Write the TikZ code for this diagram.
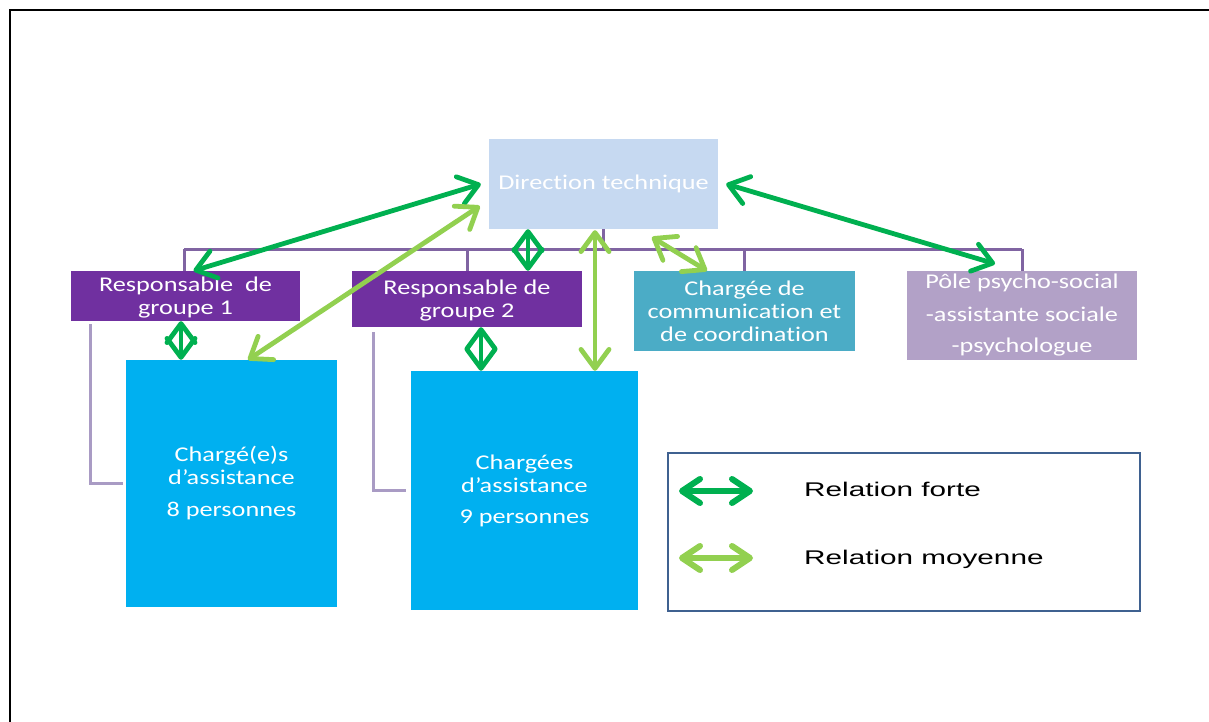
\documentclass[tikz,border=0pt]{standalone}
\usepackage{fontspec}
\setmainfont{Carlito}[FakeStretch=1.25, Ligatures=NoCommon]
\newfontfamily\legfont{Liberation Sans}[FakeStretch=1.5]
\usetikzlibrary{arrows.meta}
\definecolor{dirblue}{HTML}{C6D9F1}
\definecolor{respurple}{HTML}{7030A0}
\definecolor{comblue}{HTML}{4BACC6}
\definecolor{polepurple}{HTML}{B2A1C7}
\definecolor{agentblue}{HTML}{00B0F0}
\definecolor{dkgreen}{HTML}{00B050}
\definecolor{ltgreen}{HTML}{92D050}
\definecolor{orgline}{HTML}{8064A2}
\definecolor{sideline}{HTML}{A99BC4}
\definecolor{legborder}{HTML}{3F6190}
\tikzset{
  box/.style={draw=none, inner sep=0pt, align=center, text=white,
    font=\fontsize{21}{23}\selectfont},
  org/.style={draw=orgline, line width=3pt},
  side/.style={draw=sideline, line width=3pt},
  strong/.style={draw=dkgreen, line width=4.8pt, line cap=round,
    >={Straight Barb[round,length=19pt,width=28pt]}, <->},
  medium/.style={strong, draw=ltgreen},
  legarrow/.style={line width=6pt, line cap=round,
    >={Straight Barb[round,length=18pt,width=24pt]}, <->},
  legtext/.style={inner sep=0pt, font=\legfont\fontsize{19.8}{22}\selectfont}
}
\begin{document}
\begin{tikzpicture}[x=1pt,y=-1pt]
\useasboundingbox (0,0) rectangle (1209,722);
% outer frame
\draw[line width=2pt] (10,722) -- (10,10) -- (1209,10);

% boxes
\node[box, fill=dirblue, minimum width=229pt, minimum height=90pt] (dir) at (603.5,184) {Direction technique};
\node[box, fill=respurple, minimum width=229pt, minimum height=50pt] (r1) at (185.5,296) {\rule{0pt}{17pt}Responsable\ \ de\\groupe 1};
\node[box, fill=respurple, minimum width=230pt, minimum height=56pt] (r2) at (467,299) {\rule{0pt}{17pt}Responsable de\\groupe 2};
\node[box, fill=comblue, minimum width=221pt, minimum height=80pt] (com) at (744.5,311) {Chargée de\\communication et\\de coordination};
\node[box, fill=polepurple, minimum width=230pt, minimum height=89pt] (pole) at (1022,315.5) {Pôle psycho-social\\[10pt]-assistante sociale\\[8pt]-psychologue};
\node[box, fill=agentblue, minimum width=211pt, minimum height=247pt] (b1) at (231.5,483.5) {Chargé(e)s\\d’assistance\\[9pt]8 personnes};
\node[box, fill=agentblue, minimum width=227pt, minimum height=239pt] (b2) at (524.5,490.5) {Chargées\\d’assistance\\[8pt]9 personnes};

% org chart lines
\coordinate (busL) at (184,249);
\coordinate (busR) at (1022,249);
\draw[org] (busL) -- (busR);
\draw[org] (dir.south) -- (dir.south |- busL);
\draw[org] (busL) -- (busL |- r1.north);
\draw[org] (r2.north) -- (r2.north |- busL);
\draw[org] (com.north) -- (com.north |- busL);
\draw[org] (pole.north) -- (pole.north |- busL);

% side connectors
\draw[side] ([xshift=20pt,yshift=-3pt]r1.south west) |- ([xshift=-3pt]b1.west);
\draw[side] ([xshift=22pt,yshift=-5pt]r2.south west) |- ([xshift=-5pt]b2.west);

% relations
\draw[strong] ([xshift=8pt]r1.north) -- ([xshift=-8pt]dir.west);
\draw[strong] ([xshift=8pt]dir.east) -- ([xshift=-27pt,yshift=7pt]pole.north);
\draw[strong] ([xshift=-75.5pt]dir.south) -- ([xshift=61pt]r2.north);
\draw[strong] ([xshift=-4.5pt]r1.south) -- ([xshift=-50.5pt]b1.north);
\draw[strong] ([xshift=14pt]r2.south) -- ([xshift=-43.5pt]b2.north);
\draw[medium] ([xshift=16.5pt]b1.north) -- ([xshift=-9pt,yshift=-22pt]dir.west);
\draw[medium] ([xshift=-8.5pt,yshift=-1pt]dir.south) -- ([xshift=70.5pt]b2.north);
\draw[medium] ([xshift=48.5pt,yshift=-8pt]dir.south) -- ([xshift=-37.5pt]com.north);

% legend
\node[draw=legborder, line width=2.5pt, minimum width=472pt, minimum height=158pt, inner sep=0pt] (leg) at (904,532) {};
\coordinate (lf1) at (679,491);
\coordinate (lf2) at (753,491);
\coordinate (lm1) at (679,558);
\coordinate (lm2) at (753,558);
\draw[legarrow, draw=dkgreen] (lf1) -- (lf2);
\draw[legarrow, draw=ltgreen] (lm1) -- (lm2);
\node[legtext, anchor=base west] (tf) at (804,496) {Relation forte};
\node[legtext, anchor=base west] (tm) at (804,564) {Relation moyenne};
\end{tikzpicture}
\end{document}
